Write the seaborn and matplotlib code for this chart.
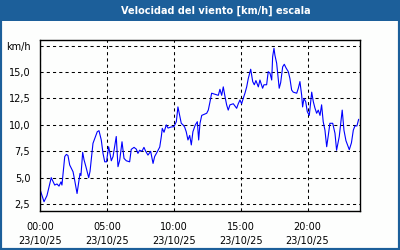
import matplotlib
matplotlib.use("Agg")
import matplotlib.pyplot as plt
import seaborn as sns
import pandas as pd
from matplotlib.ticker import FixedLocator, MultipleLocator
from matplotlib.patches import Rectangle

title = "Velocidad del viento [km/h] escala"

hours = [0.05, 0.30, 0.52, 0.84, 1.10, 1.27, 1.42, 1.57, 1.64, 1.85, 1.97, 2.09,
         2.22, 2.47, 2.59, 2.77, 2.99, 3.06, 3.19, 3.29, 3.44, 3.64, 3.74, 3.96,
         4.28, 4.41, 4.58, 4.71, 4.84, 4.97, 5.13, 5.23, 5.33, 5.46, 5.70, 5.83,
         5.96, 6.13, 6.28, 6.45, 6.70, 6.82, 7.03, 7.20, 7.32, 7.45, 7.62, 7.77,
         7.90, 8.07, 8.27, 8.45, 8.57, 8.77, 8.95, 9.07, 9.14, 9.27, 9.44, 9.57,
         9.81, 10.01, 10.19, 10.31, 10.44, 10.56, 10.69, 10.81, 10.93, 11.06, 11.19, 11.31,
         11.43, 11.61, 11.76, 11.86, 11.96, 12.09, 12.46, 12.58, 12.71, 12.83, 13.08, 13.33,
         13.45, 13.58, 13.70, 13.83, 13.95, 14.07, 14.20, 14.45, 14.70, 14.82, 14.95, 15.07,
         15.19, 15.32, 15.45, 15.57, 15.75, 15.90, 16.02, 16.14, 16.32, 16.44, 16.64, 16.74,
         16.94, 17.06, 17.19, 17.32, 17.39, 17.49, 17.56, 17.69, 17.81, 17.88, 17.99, 18.14,
         18.26, 18.39, 18.56, 18.68, 18.81, 18.93, 19.19, 19.31, 19.43, 19.56, 19.63, 19.73,
         19.86, 19.98, 20.13, 20.31, 20.43, 20.55, 20.68, 20.80, 20.93, 21.05, 21.17, 21.30,
         21.43, 21.55, 21.67, 21.88, 22.05, 22.17, 22.37, 22.59, 22.72, 22.87, 23.12, 23.28,
         23.42, 23.54, 23.69, 23.82]

speed = [3.7, 2.72, 3.3, 5.0, 4.3, 4.4, 4.2, 4.6, 4.3, 7.0, 7.2, 7.1,
         6.2, 5.56, 4.77, 3.5, 5.4, 5.2, 7.4, 6.7, 6.0, 5.0, 5.6, 8.25,
         9.35, 9.45, 8.57, 7.3, 6.5, 6.5, 7.93, 7.3, 6.6, 7.0, 8.9, 6.04,
         6.67, 8.4, 6.83, 6.6, 6.5, 7.68, 7.87, 7.7, 7.3, 7.6, 7.5, 7.87,
         7.5, 7.14, 7.5, 6.35, 7.0, 7.46, 7.9, 8.9, 9.67, 9.3, 10.0, 9.7,
         9.8, 9.83, 10.3, 11.7, 10.9, 10.15, 10.0, 9.8, 9.35, 8.57, 9.0, 8.1,
         9.35, 10.0, 10.3, 8.57, 10.15, 10.9, 11.1, 11.4, 12.2, 13.0, 12.9, 12.8,
         13.37, 12.8, 13.6, 12.67, 11.9, 11.4, 11.9, 12.0, 11.57, 12.0, 12.36, 12.0,
         12.5, 13.0, 13.6, 14.4, 15.27, 14.1, 13.8, 14.2, 13.6, 14.25, 13.47, 13.8,
         13.8, 15.04, 14.9, 14.25, 16.46, 17.26, 16.6, 15.84, 14.4, 13.47, 14.0, 15.5,
         15.74, 15.4, 15.04, 14.4, 13.3, 13.1, 13.0, 13.47, 14.1, 12.8, 11.7, 12.5,
         12.2, 11.25, 10.9, 13.1, 12.2, 11.6, 11.1, 11.4, 10.9, 11.9, 10.3, 9.5,
         7.93, 9.0, 10.15, 10.15, 9.2, 7.6, 8.9, 11.4, 9.5, 8.5, 7.65, 8.3,
         9.5, 9.9, 9.9, 10.53]

y_ticks = [2.5, 5.0, 7.5, 10.0, 12.5, 15.0, 17.5]
y_labels = ["2,5", "5,0", "7,5", "10,0", "12,5", "15,0", "km/h"]
x_ticks = [0, 5, 10, 15, 20]
x_labels = ["00:00\n23/10/25", "05:00\n23/10/25", "10:00\n23/10/25",
            "15:00\n23/10/25", "20:00\n23/10/25"]

BLUE = "#1c5f9a"
BG = "#fdfefd"

sns.set_style("white")
plt.rcParams['font.family'] = ['DejaVu Sans']

df = pd.DataFrame({"hora": hours, "velocidad": speed})

fig = plt.figure(figsize=(4, 2.5), dpi=100, facecolor=BG)
ax = fig.add_axes([40/400, 1 - 210.7/250, 320/400, 170.7/250])
ax.set_facecolor(BG)

sns.lineplot(data=df, x="hora", y="velocidad", ax=ax, color="#0000ff",
             linewidth=0.8, sort=False, estimator=None)

ax.set_xlim(0, 23.92)
ax.set_ylim(1.87, 18.04)
ax.set_xlabel("")
ax.set_ylabel("")

ax.yaxis.set_major_locator(FixedLocator(y_ticks))
ax.set_yticklabels(y_labels)
ax.xaxis.set_major_locator(FixedLocator(x_ticks))
ax.set_xticklabels(x_labels)
ax.xaxis.set_minor_locator(MultipleLocator(1))

ax.tick_params(axis="y", length=0, pad=7, labelsize=7, colors="black")
ax.tick_params(axis="x", which="major", direction="in", length=3, width=1,
               pad=8, labelsize=7, colors="black")
ax.tick_params(axis="x", which="minor", direction="in", length=3, width=1,
               colors="black")
for lbl in ax.get_xticklabels():
    lbl.set_linespacing(1.5)

ax.grid(True, which="major", color="black", linestyle=(0, (3, 3)), linewidth=0.75)
for s in ax.spines.values():
    s.set_visible(True)
    s.set_color("black")
    s.set_linewidth(1.0)

# title bar and frame
fig.patches.append(Rectangle((0, 1 - 20.5/250), 1, 20.5/250, transform=fig.transFigure,
                             facecolor=BLUE, edgecolor="none", zorder=0))
fig.patches.append(Rectangle((0, 0), 1, 1, transform=fig.transFigure, fill=False,
                             edgecolor=BLUE, linewidth=3, zorder=1))
fig.text(216/400, 1 - 10.5/250, title, color="white", fontweight="bold",
         fontsize=7, ha="center", va="center")

fig.savefig("out.png", dpi=100, facecolor=BG)
